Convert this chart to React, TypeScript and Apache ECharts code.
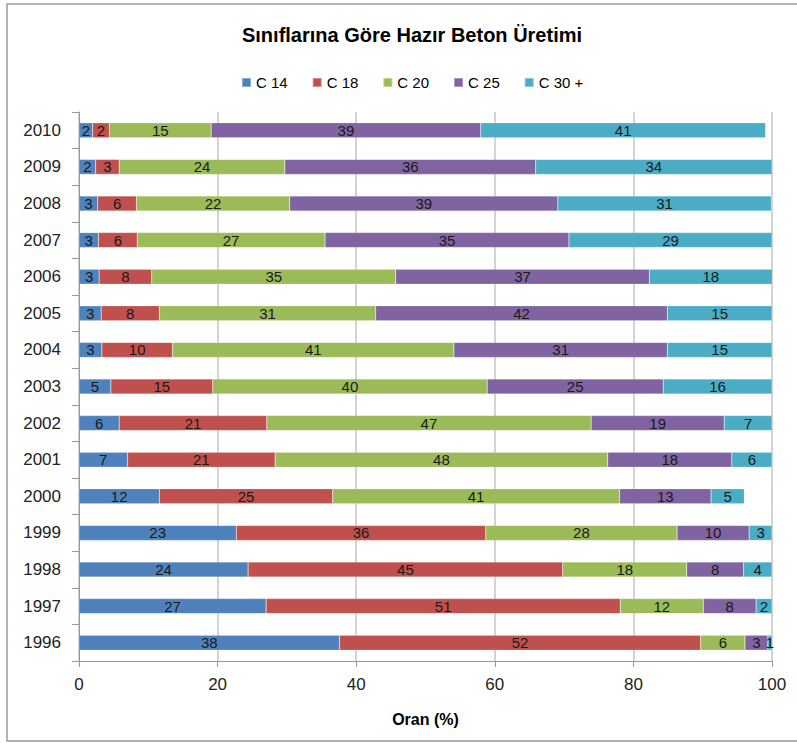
import React, { useEffect, useRef } from "react";
import * as echarts from "echarts";

const years = ["1996", "1997", "1998", "1999", "2000", "2001", "2002", "2003", "2004", "2005", "2006", "2007", "2008", "2009", "2010"];
const seriesNames = ["C 14", "C 18", "C 20", "C 25", "C 30 +"];
const c14 = [37.6, 27.0, 24.4, 22.7, 11.6, 7.0, 5.8, 4.6, 3.3, 3.2, 2.9, 2.8, 2.7, 2.4, 1.97];
const c18 = [52.1, 51.1, 45.4, 36.0, 25.0, 21.3, 21.3, 14.7, 10.2, 8.4, 7.6, 5.6, 5.6, 3.4, 2.4];
const c20 = [6.4, 12.0, 17.9, 27.6, 41.4, 48.0, 46.8, 39.6, 40.6, 31.2, 35.2, 27.1, 22.1, 23.9, 14.7];
const c25 = [3.3, 7.6, 8.2, 10.4, 13.2, 17.9, 19.2, 25.4, 30.8, 42.1, 36.6, 35.2, 38.7, 36.2, 38.9];
const c30 = [0.6, 2.3, 4.1, 3.3, 4.8, 5.8, 6.9, 15.7, 15.1, 15.1, 17.8, 29.3, 30.8, 34.1, 41.1];
const xTicks = [0, 20, 40, 60, 80, 100];
const colors = ["#4F81BD", "#C0504D", "#9BBB59", "#8064A2", "#4BACC6"];

const FONT = "Liberation Sans";

export default function App() {
  const ref = useRef<HTMLDivElement>(null);
  useEffect(() => {
    if (!ref.current) return;
    const chart = echarts.init(ref.current, null, { renderer: "svg" });
    const data = [c14, c18, c20, c25, c30];
    chart.setOption({
      animation: false,
      backgroundColor: "#ffffff",
      color: colors,
      title: {
        text: "Sınıflarına Göre Hazır Beton Üretimi",
        left: 407,
        textAlign: "center",
        top: 20,
        textStyle: { fontFamily: FONT, fontSize: 20, fontWeight: "bold", color: "#000" },
      },
      legend: {
        top: 70,
        left: 236,
        icon: "rect",
        itemWidth: 9,
        itemHeight: 9,
        itemGap: 24,
        textStyle: { fontFamily: FONT, fontSize: 15, color: "#000" },
        data: seriesNames,
      },
      graphic: [
        {
          type: "rect",
          shape: { x: 7, y: 4, width: 800, height: 737 },
          style: { fill: "none", stroke: "#9a9a9a", lineWidth: 1.5 },
          silent: true,
        },
      ],
      grid: { left: 79, right: 25, top: 112, bottom: 82, containLabel: false },
      xAxis: {
        type: "value",
        min: 0,
        max: 100,
        interval: 20,
        name: "Oran (%)",
        nameLocation: "middle",
        nameGap: 50,
        nameTextStyle: { fontFamily: FONT, fontSize: 16, fontWeight: "bold", color: "#000" },
        axisLine: { show: true, lineStyle: { color: "#999" } },
        axisTick: { show: true, length: 6, lineStyle: { color: "#999" } },
        axisLabel: {
          fontFamily: FONT,
          fontSize: 17,
          color: "#222",
          margin: 15,
          formatter: (v: number) => (xTicks.includes(v) ? String(v) : ""),
        },
        splitLine: { show: true, lineStyle: { color: "#c4c4c4", width: 1.5 } },
      },
      yAxis: {
        type: "category",
        data: years,
        axisLine: { show: true, lineStyle: { color: "#999" } },
        axisTick: { show: true, length: 7, inside: false, lineStyle: { color: "#999" } },
        axisLabel: { fontFamily: FONT, fontSize: 17, color: "#222", margin: 18 },
        splitLine: { show: false },
      },
      series: seriesNames.map((name, i) => ({
        name,
        type: "bar",
        stack: "total",
        barWidth: 15,
        data: data[i],
        itemStyle: { color: colors[i], borderColor: "rgba(255,255,255,0.35)", borderWidth: 0.5 },
        label: {
          show: true,
          position: "inside",
          fontFamily: FONT,
          fontSize: 15,
          color: "#1a1a1a",
          formatter: (p: any) => String(Math.round(p.value)),
        },
      })),
    });
    return () => chart.dispose();
  }, []);
  return (
    <div
      ref={ref}
      style={{ position: "fixed", left: 0, top: 0, width: 797, height: 743, background: "#fff" }}
    />
  );
}
